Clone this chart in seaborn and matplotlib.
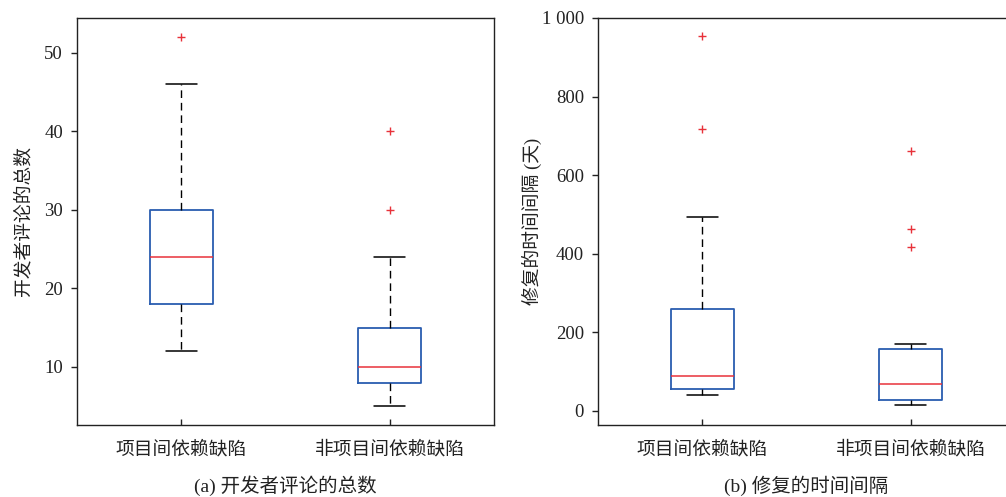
import matplotlib
matplotlib.use("Agg")
import matplotlib.pyplot as plt
import seaborn as sns
import pandas as pd

# ---- data ----
categories = ["项目间依赖缺陷", "非项目间依赖缺陷"]

# (a) total number of developer comments
comments_cross = [12, 15, 18, 21, 24, 27, 30, 46, 52]
comments_noncross = [5, 6, 7, 8, 9, 10, 10, 11, 13, 15, 24, 30, 40]

# (b) time interval of fix (days)
fixtime_cross = [40, 45, 50, 56, 70, 82, 90, 150, 210, 259, 493, 718, 955]
fixtime_noncross = [14, 18, 20, 24, 27, 35, 45, 56, 68, 90, 110, 135, 157, 169, 418, 464, 661]

yticks_a = [10, 20, 30, 40, 50]
yticklabels_a = ["10", "20", "30", "40", "50"]
yticks_b = [0, 200, 400, 600, 800, 1000]
yticklabels_b = ["0", "200", "400", "600", "800", "1 000"]

ylabel_a = "开发者评论的总数"
ylabel_b = "修复的时间间隔 (天)"
caption_a = "(a) 开发者评论的总数"
caption_b = "(b) 修复的时间间隔"

# ---- style ----
sns.set_style("ticks")
plt.rcParams["font.family"] = ["Liberation Serif", "Noto Sans CJK SC", "DejaVu Sans"]
cjk = ["Noto Sans CJK SC", "Liberation Serif", "DejaVu Sans"]
mixed = ["Liberation Serif", "Noto Sans CJK SC", "DejaVu Sans"]

BLUE = "#2a5db0"
RED = "#e8323a"
SPINE = "#222222"
TXT = "#222222"

fig = plt.figure(figsize=(10.06, 4.97), dpi=100)
W, H = 1006, 497
ax_a = fig.add_axes([77 / W, (H - 425) / H, 417 / W, 407 / H])
ax_b = fig.add_axes([598 / W, (H - 425) / H, 417 / W, 407 / H])

def make_df(a, b):
    return pd.DataFrame({
        "group": [categories[0]] * len(a) + [categories[1]] * len(b),
        "value": list(a) + list(b),
    })

box_kws = dict(
    x="group", y="value", order=categories, width=0.3, fill=False,
    color=BLUE, linewidth=1.2, whis=1.5,
    boxprops={"color": BLUE, "linewidth": 1.3},
    medianprops={"color": RED, "linewidth": 1.1},
    whiskerprops={"color": "black", "linestyle": (0, (5.5, 3.5)), "linewidth": 1.0},
    capprops={"color": "black", "linewidth": 1.1},
    flierprops={"marker": "+", "markeredgecolor": RED, "markerfacecolor": RED,
                "markersize": 5.5, "markeredgewidth": 1.0},
)

sns.boxplot(data=make_df(comments_cross, comments_noncross), ax=ax_a, **box_kws)
sns.boxplot(data=make_df(fixtime_cross, fixtime_noncross), ax=ax_b, **box_kws)

ax_a.set_ylim(2.6, 54.4)
ax_b.set_ylim(-36, 1000)

for ax, yt, ytl, yl, lx in [(ax_a, yticks_a, yticklabels_a, ylabel_a, -0.108),
                             (ax_b, yticks_b, yticklabels_b, ylabel_b, -0.135)]:
    ax.set_xlim(-0.5, 1.5)
    ax.set_yticks(yt)
    ax.set_yticklabels(ytl, fontsize=13.5, color=TXT)
    ax.set_xticks(range(len(categories)))
    ax.set_xticklabels(categories, fontsize=13.5, family=cjk, color=TXT)
    ax.set_xlabel("")
    ax.set_ylabel(yl, fontsize=13.5, family=mixed, color=TXT)
    ax.yaxis.set_label_coords(lx, 0.5)
    ax.tick_params(axis="y", direction="out", length=4, width=1, pad=6, colors=SPINE)
    ax.tick_params(axis="x", direction="in", length=4.5, width=1, pad=10, colors=SPINE)
    for s in ax.spines.values():
        s.set_visible(True)
        s.set_color(SPINE)
        s.set_linewidth(1.0)
    ax.grid(False)

fig.text(285.5 / W, 1 - 486 / H, caption_a, ha="center", va="center",
         fontsize=14, family=mixed, color=TXT)
fig.text(806 / W, 1 - 486 / H, caption_b, ha="center", va="center",
         fontsize=14, family=mixed, color=TXT)

fig.savefig("out.png", dpi=100)
